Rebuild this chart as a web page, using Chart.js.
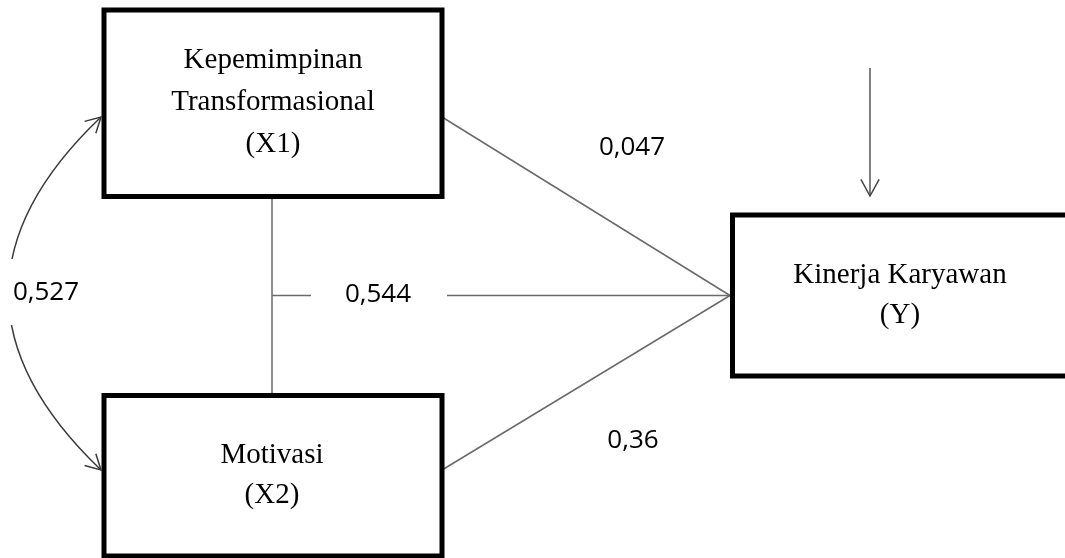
<!DOCTYPE html>
<html>
<head>
<meta charset="utf-8">
<script src="https://cdn.jsdelivr.net/npm/chart.js@4.4.1/dist/chart.umd.min.js"></script>
<style>
html, body { margin: 0; padding: 0; background: #fff; }
#wrap { width: 1065px; height: 558px; }
</style>
</head>
<body>
<div id="wrap"><canvas id="pathChart"></canvas></div>
<script>
// variables in the path model
const variableKeys = ["X1", "X2", "Y"];
const variableLabels = [
  ["Kepemimpinan", "Transformasional", "(X1)"],
  ["Motivasi", "(X2)"],
  ["Kinerja Karyawan", "(Y)"]
];

// path coefficients (X1 -> Y, X1X2 -> Y, X2 -> Y) and correlation X1 <-> X2
const pathNames = ["X1 → Y", "X1X2 → Y", "X2 → Y"];
const pathValues = [0.047, 0.544, 0.36];
const correlationValue = 0.527;

// where things sit (chart units = pixels of the 1065x558 frame)
const layout = {
  X1: { x0: 104, y0: 10, x1: 442, y1: 196.5, lines: [68, 110, 152], cx: 273 },
  X2: { x0: 104, y0: 395.5, x1: 442, y1: 556, lines: [463, 503], cx: 272 },
  Y:  { x0: 732.5, y0: 215, x1: 1068, y1: 376, lines: [283, 323], cx: 900 },
  joinX: 272, joinY: 295.5, stubEnd: 311, gapEnd: 447, hitX: 730,
  errTop: 68, errTip: 196,
  labelPos: [[632, 148], [378, 295], [633, 441]],
  corrPos: [46, 293], curveCtrl: [-84, 293], curveTipTop: 117, curveTipBot: 470
};

const fmt = v => String(v).replace(".", ",");

function seg(a, b, color, width) {
  return {
    data: [{ x: a[0], y: a[1] }, { x: b[0], y: b[1] }],
    showLine: true, pointRadius: 0, borderColor: color, borderWidth: width,
    fill: false
  };
}

const L = layout;
const lineColor = "#6a6a6a";
const datasets = [
  // X1 -> Y
  seg([L.X1.x1, L.curveTipTop], [L.hitX, L.joinY], lineColor, 1.5),
  // joint path -> Y (broken around its label)
  seg([L.joinX, L.joinY], [L.stubEnd, L.joinY], lineColor, 1.5),
  seg([L.gapEnd, L.joinY], [L.hitX, L.joinY], lineColor, 1.5),
  // X2 -> Y
  seg([L.X2.x1, L.curveTipBot], [L.hitX, L.joinY], lineColor, 1.5),
  // link between X1 and X2
  seg([L.joinX, L.X1.y1], [L.joinX, L.X2.y0], lineColor, 1.5),
  // error term arrow into Y
  seg([870, L.errTop], [870, L.errTip], "#555", 1.5)
];

function arrowHead(ctx, tip, from, len, spread) {
  const ang = Math.atan2(tip[1] - from[1], tip[0] - from[0]);
  ctx.beginPath();
  ctx.moveTo(tip[0] - len * Math.cos(ang - spread), tip[1] - len * Math.sin(ang - spread));
  ctx.lineTo(tip[0], tip[1]);
  ctx.lineTo(tip[0] - len * Math.cos(ang + spread), tip[1] - len * Math.sin(ang + spread));
  ctx.stroke();
}

const diagramPlugin = {
  id: "diagram",
  afterDatasetsDraw(chart) {
    const ctx = chart.ctx;
    const xs = chart.scales.x, ys = chart.scales.y;
    const px = (x, y) => [xs.getPixelForValue(x), ys.getPixelForValue(y)];
    ctx.save();

    // boxes
    variableKeys.forEach((k, i) => {
      const b = L[k];
      const p0 = px(b.x0, b.y0), p1 = px(b.x1, b.y1);
      ctx.lineWidth = 5;
      ctx.strokeStyle = "#000";
      ctx.strokeRect(p0[0], p0[1], p1[0] - p0[0], p1[1] - p0[1]);
      ctx.fillStyle = "#000";
      ctx.font = "29px 'Liberation Serif', 'DejaVu Serif', serif";
      ctx.textAlign = "center";
      ctx.textBaseline = "alphabetic";
      variableLabels[i].forEach((t, j) => {
        const p = px(b.cx, b.lines[j]);
        ctx.fillText(t, p[0], p[1]);
      });
    });

    // correlation curve X1 <-> X2
    const top = px(L.X1.x0 - 3, L.curveTipTop);
    const bot = px(L.X2.x0 - 3, L.curveTipBot);
    const ctl = px(L.curveCtrl[0], L.curveCtrl[1]);
    ctx.strokeStyle = "#3a3a3a";
    ctx.lineWidth = 1.5;
    ctx.beginPath();
    ctx.moveTo(top[0], top[1]);
    ctx.quadraticCurveTo(ctl[0], ctl[1], bot[0], bot[1]);
    ctx.stroke();
    arrowHead(ctx, top, ctl, 17, 0.5);
    arrowHead(ctx, bot, ctl, 17, 0.5);

    // error arrow head
    ctx.strokeStyle = "#444";
    arrowHead(ctx, px(870, L.errTip), px(870, L.errTop), 19, 0.5);

    // coefficient labels
    ctx.font = "26px 'Open Sans', 'Liberation Sans', sans-serif";
    ctx.textAlign = "center";
    ctx.textBaseline = "middle";
    const cp = px(L.corrPos[0], L.corrPos[1]);
    ctx.fillStyle = "#fff";
    ctx.fillRect(0, cp[1] - 34, cp[0] + 40, 66);
    ctx.fillStyle = "#000";
    ctx.fillText(fmt(correlationValue), cp[0], cp[1]);
    pathValues.forEach((v, i) => {
      const p = px(L.labelPos[i][0], L.labelPos[i][1]);
      ctx.fillText(fmt(v), p[0], p[1]);
    });
    ctx.restore();
  }
};

new Chart(document.getElementById("pathChart"), {
  type: "scatter",
  data: { datasets },
  options: {
    responsive: true,
    maintainAspectRatio: false,
    animation: false,
    layout: { padding: 0 },
    plugins: { legend: { display: false }, tooltip: { enabled: false } },
    scales: {
      x: { type: "linear", min: 0, max: 1065, display: false },
      y: { type: "linear", min: 0, max: 558, reverse: true, display: false }
    }
  },
  plugins: [diagramPlugin]
});
</script>
</body>
</html>
